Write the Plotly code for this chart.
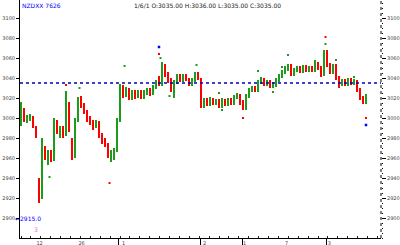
import plotly.graph_objects as go

# ---- data ----
opens = [2993,3008,2997,2998,3001,2990,2938,2922,2968,2961,2966,2958,2994,2986,2990,2983,3013,2978,2963,2998,
         3018,3013,3006,3000,2996,2992,2995,2983,2978,2973,2960,2962,2968,2998,3030,3023,3028,3021,3026,3022,
         3026,3021,3026,3028,3025,3031,3040,3034,3052,3044,3038,3028,3036,3042,3038,3042,3038,3034,3038,3044,
         3038,3012,3018,3014,3018,3015,3017,3012,3017,3014,3018,3015,3021,3022,3015,3010,3022,3028,3030,3028,
         3036,3038,3034,3036,3032,3033,3038,3042,3046,3050,3052,3044,3048,3050,3047,3051,3048,3050,3048,3054,
         3050,3044,3066,3053,3046,3052,3040,3034,3037,3034,3038,3035,3036,3028,3020,3016]
closes = [3014,2998,3001,3002,2992,2982,2922,2970,2961,2966,2958,2996,2986,2990,2982,3018,2990,2966,2998,3018,
          3013,3006,3000,2996,2992,2996,2983,2978,2973,2966,2966,2968,2998,3030,3023,3028,3020,3026,3022,3026,
          3021,3026,3028,3024,3031,3036,3034,3053,3044,3038,3028,3036,3042,3038,3042,3039,3034,3038,3044,3040,
          3012,3018,3014,3019,3015,3017,3012,3018,3014,3018,3015,3021,3023,3015,3010,3022,3028,3030,3028,3036,
          3039,3034,3036,3032,3034,3038,3042,3046,3050,3052,3044,3048,3050,3047,3051,3048,3050,3048,3054,3050,
          3043,3066,3053,3046,3052,3040,3034,3037,3034,3038,3035,3037,3028,3020,3016,3022]
highs = [3016,3010,3003,3004,3002,2992,2940,2980,2972,2968,2968,3000,2998,2992,2992,3026,3016,2980,3000,3021,
         3022,3015,3008,3002,2998,2998,2997,2985,2980,2975,2968,2970,3000,3034,3033,3031,3030,3028,3028,3028,
         3028,3028,3030,3030,3033,3038,3042,3056,3054,3046,3040,3038,3044,3044,3044,3044,3040,3040,3046,3046,
         3040,3020,3020,3021,3020,3019,3019,3020,3019,3020,3020,3023,3025,3024,3018,3024,3030,3032,3032,3038,
         3041,3040,3038,3038,3036,3040,3044,3048,3052,3054,3054,3050,3052,3052,3053,3053,3052,3052,3058,3056,
         3052,3068,3068,3055,3054,3054,3042,3039,3039,3040,3040,3039,3038,3030,3022,3024]
lows = [2992,2996,2995,2997,2990,2980,2915,2919,2958,2953,2956,2957,2984,2980,2980,2982,2986,2958,2960,2996,
        3010,3004,2996,2993,2988,2990,2980,2974,2971,2960,2956,2958,2966,2996,3020,3021,3018,3018,3019,3020,
        3019,3019,3023,3022,3023,3029,3032,3032,3041,3035,3026,3020,3034,3036,3036,3037,3032,3032,3036,3038,
        3010,3010,3012,3012,3013,3013,3010,3010,3012,3012,3013,3013,3019,3013,3008,3008,3020,3026,3026,3026,
        3034,3032,3032,3030,3030,3031,3036,3040,3044,3047,3042,3042,3046,3045,3045,3046,3046,3046,3046,3048,
        3041,3042,3051,3044,3044,3038,3030,3032,3032,3032,3033,3033,3026,3018,3014,3014]
bars = list(range(len(opens)))

# isolated tick prints
up_dot_x = [9.5, 15, 19.5, 34.5, 46.5, 49.5, 58.5, 66, 67, 79, 84, 87, 89, 101.5, 105, 111]
up_dot_y = [2941, 3026, 3030, 3052, 3060, 3022, 3053, 3025, 3008, 3047, 3026, 3051, 3063, 3074, 3058, 3041]
dn_dot_x = [15, 29.5, 46, 74, 101.5, 115]
dn_dot_y = [3033, 2935, 3064, 3000, 3081, 3000]
hi_mark_x, hi_mark_y = [46], [3071]
lo_mark_x, lo_mark_y = [115], [2993]

prev_close = 3035
low_label = "←2915.0"
y_ticks = [3100, 3080, 3060, 3040, 3020, 3000, 2980, 2960, 2940, 2920, 2900]
x_tick_pos = [6.2, 20.2, 34.2, 61.2, 74.5, 88.5, 102.8]
x_tick_txt = ["12", "26", "1", "2", "1", "7", "3"]
sep_pos = [32.5, 59.8, 73.8, 101.8]

GREEN = "#1c9c1c"
RED = "#ff0000"

colors = [GREEN if c >= o else RED for o, c in zip(opens, closes)]
body_base = [min(o, c) for o, c in zip(opens, closes)]
body_len = [max(abs(c - o), 1) for o, c in zip(opens, closes)]
wick_len = [h - l for h, l in zip(highs, lows)]

fig = go.Figure()
fig.add_trace(go.Bar(x=bars, base=lows, y=wick_len, width=0.34,
    marker=dict(color=colors, line=dict(width=0)), showlegend=False, hoverinfo="skip"))
fig.add_trace(go.Bar(x=bars, base=body_base, y=body_len, width=0.67,
    marker=dict(color=colors, line=dict(width=0)), showlegend=False, hoverinfo="skip"))
fig.add_trace(go.Scatter(x=up_dot_x, y=up_dot_y, mode="markers",
    marker=dict(symbol="square", size=2, color=GREEN, line=dict(width=0)), showlegend=False))
fig.add_trace(go.Scatter(x=dn_dot_x, y=dn_dot_y, mode="markers",
    marker=dict(symbol="square", size=2, color=RED, line=dict(width=0)), showlegend=False))
fig.add_trace(go.Scatter(x=hi_mark_x + lo_mark_x, y=hi_mark_y + lo_mark_y, mode="markers",
    marker=dict(symbol="square", size=2.5, color="#0000ff", line=dict(width=0)), showlegend=False))
fig.add_trace(go.Scatter(x=[bars[0]], y=[prev_close], yaxis="y2", mode="markers",
    marker=dict(size=0.1, opacity=0), showlegend=False, hoverinfo="skip"))
fig.add_trace(go.Scatter(x=[bars[0]], y=[prev_close], xaxis="x2", mode="markers",
    marker=dict(size=0.1, opacity=0), showlegend=False, hoverinfo="skip"))

xr = [-0.333, 120.0]
yr = [2880, 3118]
tickfont = dict(family="DejaVu Sans", size=5, color="#444")

fig.update_layout(
    width=400, height=245,
    margin=dict(l=20, r=19, t=0, b=7),
    paper_bgcolor="white", plot_bgcolor="white",
    barmode="overlay", bargap=0,
    xaxis=dict(range=xr, showgrid=False, zeroline=False,
               showline=True, linecolor="black", linewidth=1,
               tickvals=x_tick_pos, ticktext=x_tick_txt, ticks="", tickfont=tickfont,
               ticklabelstandoff=0,
               minor=dict(ticks="inside", ticklen=2, dtick=3.3, tick0=0, tickcolor="#222")),
    xaxis2=dict(range=xr, overlaying="x", side="bottom", anchor="y", showgrid=False,
                zeroline=False, showline=False, tickvals=sep_pos, ticktext=[""] * len(sep_pos),
                ticks="outside", ticklen=7, tickcolor="black", tickwidth=1),
    yaxis=dict(range=yr, showgrid=False, zeroline=False, showline=True, linecolor="black",
               linewidth=1, tickvals=y_ticks, ticks="outside", ticklen=3, tickcolor="black",
               tickfont=tickfont, tickformat="d"),
    yaxis2=dict(range=yr, overlaying="y", side="right", showgrid=False, zeroline=False,
                showline=False, tickvals=y_ticks, ticks="outside", ticklen=4, tickcolor="black",
                tickfont=tickfont, tickformat="d",
                minor=dict(ticks="outside", ticklen=1, dtick=5, tickcolor="black")),
    shapes=[
        dict(type="line", xref="paper", yref="y", x0=0, x1=1, y0=prev_close, y1=prev_close,
             line=dict(color="#0000bb", width=1.3, dash="dot")),
        dict(type="line", xref="paper", yref="paper", x0=1, x1=1, y0=0, y1=1,
             line=dict(color="black", width=1, dash="dot")),
    ],
    annotations=[
        dict(xref="paper", yref="paper", x=0.0, y=1.0, xanchor="left", yanchor="top",
             text="NZDXX 7626", showarrow=False, font=dict(family="DejaVu Sans", size=6, color="#0000ff")),
        dict(xref="paper", yref="paper", x=0.31, y=1.0, xanchor="left", yanchor="top",
             text="1/6/1 O:3035.00 H:3036.00 L:3035.00 C:3035.00", showarrow=False,
             font=dict(family="DejaVu Sans", size=6, color="#222")),
        dict(x=bars[6], y=lows[6], xref="x", yref="y", xanchor="right", yanchor="top",
             text=low_label, showarrow=False, yshift=-10, xshift=4,
             font=dict(family="DejaVu Sans", size=6, color="#0000ff")),
        dict(x=bars[6], y=lows[6], xref="x", yref="y", xanchor="center", yanchor="top",
             text="3", showarrow=False, yshift=-21, xshift=-3,
             font=dict(family="DejaVu Sans", size=6, color="#ee66ee")),
    ],
)
fig.write_html("out.html")
